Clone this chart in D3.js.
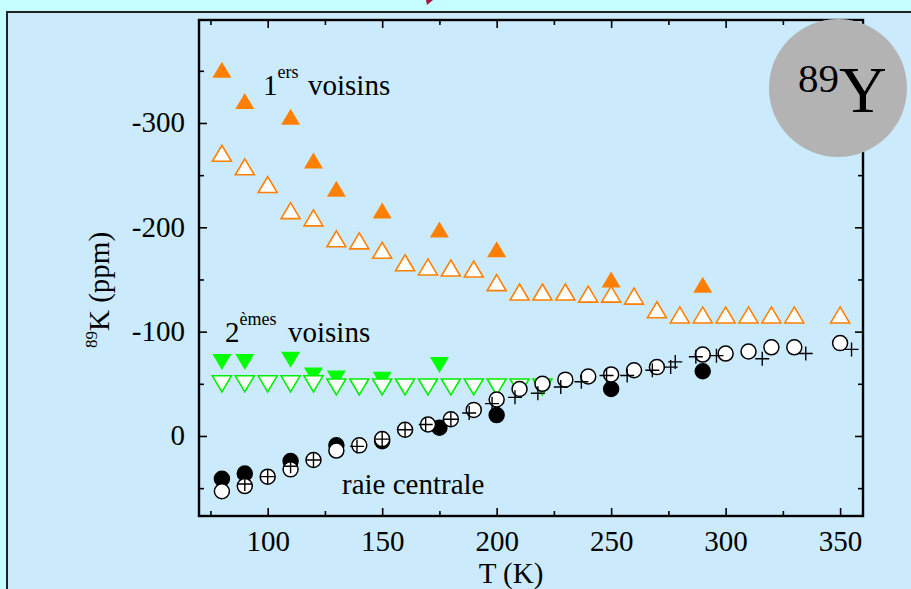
<!DOCTYPE html>
<html>
<head>
<meta charset="utf-8">
<script src="https://cdn.jsdelivr.net/npm/d3@7"></script>
<style>
  html, body { margin: 0; padding: 0; background: #c6feff; }
  svg { display: block; font-family: "Liberation Serif", "Times New Roman", serif; }
</style>
</head>
<body>
<div id="chart"></div>
<script>
// 1ers voisins (filled / open orange triangles)
const firstFilledT = [80, 90, 110, 120, 130, 150, 175, 200, 250, 290];
const firstFilledK = [-351, -321, -306, -264, -237, -216, -198, -179, -150, -145];
const firstOpenT = [80, 90, 100, 110, 120, 130, 140, 150, 160, 170, 180, 190, 200, 210, 220, 230, 240, 250, 260, 270, 280, 290, 300, 310, 320, 330, 350];
const firstOpenK = [-271, -258, -241, -216, -209, -189, -187, -178, -166, -162, -161, -160, -147, -138, -138, -138, -136, -136, -134, -121, -116, -116, -116, -116, -116, -116, -116];

// 2emes voisins (filled / open green down triangles)
const secondFilledT = [80, 90, 110, 120, 130, 150, 175];
const secondFilledK = [-71, -71, -73, -58, -55, -54, -68];
const secondOpenT = [80, 90, 100, 110, 120, 130, 140, 150, 160, 170, 180, 190, 200, 210, 220];
const secondOpenK = [-50, -50, -50, -50, -50, -47, -47, -47, -47, -47, -47, -47, -47, -47, -47];

// raie centrale (filled circles, open circles, crosses)
const centralFilledT = [80, 90, 110, 130, 150, 175, 200, 250, 290];
const centralFilledK = [41, 36, 24, 9, 5, -8, -20, -45, -62];
const centralOpenT = [80, 90, 100, 110, 120, 130, 140, 150, 160, 170, 180, 190, 200, 210, 220, 230, 240, 250, 260, 270, 290, 300, 310, 320, 330, 350];
const centralOpenK = [53, 48, 39, 32, 23, 14, 9, 3, -6, -11, -16, -25, -35, -45, -50, -54, -57, -59, -63, -66, -78, -79, -81, -85, -85, -89];
const centralPlusT = [90, 100, 110, 120, 139, 150, 160, 169, 180, 188, 198, 208, 218, 228, 237, 248, 257, 268, 276, 278, 287, 296, 316, 335, 355];
const centralPlusK = [46, 39, 29, 23, 10, 3, -6, -11, -16, -22, -31, -37, -41, -47, -52, -58, -58, -63, -66, -71, -76, -77, -74, -79, -83];

// axis ticks
const xMajor = [100, 150, 200, 250, 300, 350];
const xMinor = [75, 125, 175, 225, 275, 325];
const yMajor = [-300, -200, -100, 0];
const yMinor = [-350, -250, -150, -50, 50];

const W = 911, H = 589;
const plot = { left: 199, top: 20, right: 863, bottom: 516 };

const svg = d3.select("#chart").append("svg")
    .attr("width", W)
    .attr("height", H);

// outer panel
svg.append("rect").attr("x", 0).attr("y", 0).attr("width", W).attr("height", H).attr("fill", "#c6feff");
svg.append("rect").attr("x", 7).attr("y", 12).attr("width", W).attr("height", H)
    .attr("fill", "#cbebfd").attr("stroke", "#222").attr("stroke-width", 2);
svg.append("path").attr("d", "M426,0 L433,0 L427,5 Z").attr("fill", "#a8143c");

const x = d3.scaleLinear().domain([70, 360]).range([plot.left, plot.right]);
const y = d3.scaleLinear().domain([76.7, -398.7]).range([plot.bottom, plot.top]);

const fmt = d => String(d);

// axes, ticks pointing inward
function addAxis(axisFn, scale, ticks, size, transform, labels) {
    const g = svg.append("g")
        .attr("transform", transform)
        .call(axisFn(scale).tickValues(ticks).tickSizeInner(-size).tickSizeOuter(0)
            .tickPadding(labels ? 14 : 0).tickFormat(labels ? fmt : ""));
    g.select(".domain").remove();
    g.selectAll(".tick line").attr("stroke", "#000").attr("stroke-width", 1.6);
    g.selectAll(".tick text").attr("fill", "#000").attr("font-size", 29)
        .attr("font-family", "Liberation Serif, serif");
    return g;
}
addAxis(d3.axisBottom, x, xMajor, 8, `translate(0,${plot.bottom})`, true);
addAxis(d3.axisBottom, x, xMinor, 5, `translate(0,${plot.bottom})`, false);
addAxis(d3.axisTop, x, xMajor, 8, `translate(0,${plot.top})`, false);
addAxis(d3.axisTop, x, xMinor, 5, `translate(0,${plot.top})`, false);
const yl = addAxis(d3.axisLeft, y, yMajor, 8, `translate(${plot.left},0)`, true);
yl.selectAll(".tick text").attr("dy", "0.3em");
addAxis(d3.axisLeft, y, yMinor, 5, `translate(${plot.left},0)`, false);
addAxis(d3.axisRight, y, yMajor, 8, `translate(${plot.right},0)`, false);
addAxis(d3.axisRight, y, yMinor, 5, `translate(${plot.right},0)`, false);

svg.append("rect")
    .attr("x", plot.left).attr("y", plot.top)
    .attr("width", plot.right - plot.left).attr("height", plot.bottom - plot.top)
    .attr("fill", "none").attr("stroke", "#000").attr("stroke-width", 2.4);

// marker shapes
const triUp = "M0,-8 L9.5,8 L-9.5,8 Z";
const triDown = "M0,8 L9.5,-8 L-9.5,-8 Z";
const plus = "M-7,0 H7 M0,-7 V7";

function markers(T, K, d, fill, stroke, sw) {
    svg.append("g").selectAll("path")
        .data(T.map((t, i) => ({ t, k: K[i] })))
        .enter().append("path")
        .attr("transform", p => `translate(${x(p.t)},${y(p.k)})`)
        .attr("d", d)
        .attr("fill", fill)
        .attr("stroke", stroke)
        .attr("stroke-width", sw);
}
function circles(T, K, fill, stroke) {
    svg.append("g").selectAll("circle")
        .data(T.map((t, i) => ({ t, k: K[i] })))
        .enter().append("circle")
        .attr("cx", p => x(p.t))
        .attr("cy", p => y(p.k))
        .attr("r", 7.5)
        .attr("fill", fill)
        .attr("stroke", stroke)
        .attr("stroke-width", 1.5);
}

markers(firstFilledT, firstFilledK, triUp, "#ff8000", "none", 0);
markers(firstOpenT, firstOpenK, triUp, "#fff", "#ff8000", 1.6);
markers(secondFilledT, secondFilledK, triDown, "#00ff00", "none", 0);
markers(secondOpenT, secondOpenK, triDown, "#fff", "#00ee00", 1.6);
circles(centralFilledT, centralFilledK, "#000", "#000");
circles(centralOpenT, centralOpenK, "#fff", "#000");
markers(centralPlusT, centralPlusK, plus, "none", "#000", 1.4);

// labels
function label(xp, yp, main, sup, rest, restX) {
    const t = svg.append("text").attr("x", xp).attr("y", yp)
        .attr("font-size", 29).attr("fill", "#000");
    t.append("tspan").text(main);
    t.append("tspan").attr("font-size", 18).attr("dy", -17).text(sup);
    svg.append("text").attr("x", restX).attr("y", yp)
        .attr("font-size", 29).attr("fill", "#000").text(rest);
}
label(263, 95, "1", "ers", "voisins", 308);
label(225, 342, "2", "èmes", "voisins", 288);

svg.append("text").attr("x", 342).attr("y", 494)
    .attr("font-size", 29).attr("fill", "#000").text("raie centrale");

svg.append("text").attr("x", 511).attr("y", 583)
    .attr("text-anchor", "middle").attr("font-size", 29).attr("fill", "#000").text("T (K)");

const yt = svg.append("text")
    .attr("transform", "translate(109,290) rotate(-90)")
    .attr("text-anchor", "middle").attr("fill", "#000").attr("font-size", 29);
yt.append("tspan").attr("font-size", 17).attr("dy", -12).text("89");
yt.append("tspan").attr("dy", 12).text("K (ppm)");

// 89Y badge
svg.append("circle").attr("cx", 838).attr("cy", 88).attr("r", 69).attr("fill", "#b3b3b3");
const badge = svg.append("text").attr("x", 798).attr("y", 112).attr("fill", "#000");
badge.append("tspan").attr("font-size", 41).attr("dy", -20).text("89");
badge.append("tspan").attr("font-size", 66).attr("dy", 20).text("Y");
</script>
</body>
</html>
